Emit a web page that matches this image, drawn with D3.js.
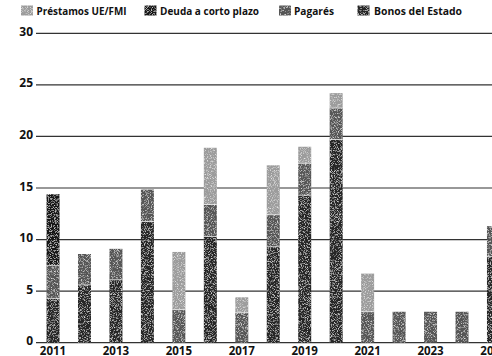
<!DOCTYPE html>
<html>
<head>
<meta charset="utf-8">
<script src="https://cdn.jsdelivr.net/npm/d3@7"></script>
<style>
  body { margin: 0; background: #fff; }
  svg { display: block; }
</style>
</head>
<body>
<svg width="492" height="356"></svg>
<script>
// datos (miles de millones de euros)
var years = ["2011","2012","2013","2014","2015","2016","2017","2018","2019","2020","2021","2022","2023","2024","2025"];
var bonos     = [4.3, 5.6, 6.1, 11.75, 0, 10.3, 0, 9.3, 14.3, 19.7, 0, 0, 0, 0, 8.35];
var pagares   = [3.2, 3.0, 3.0, 3.1, 3.2, 3.1, 2.9, 3.1, 3.1, 3.05, 3.0, 3.0, 3.0, 3.0, 2.95];
var corto     = [6.9, 0, 0, 0, 0, 0, 0, 0, 0, 0, 0, 0, 0, 0, 0];
var prestamos = [0, 0, 0, 0, 5.6, 5.5, 1.5, 4.8, 1.6, 1.45, 3.7, 0, 0, 0, 0];
var yTicks = [0, 5, 10, 15, 20, 25, 30];
var xLabels = ["2011","2013","2015","2017","2019","2021","2023","2025"];

var series = [
  { key: "bonos", name: "Bonos del Estado", values: bonos, color: "#282828" },
  { key: "pagares", name: "Pagarés", values: pagares, color: "#575757" },
  { key: "corto", name: "Deuda a corto plazo", values: corto, color: "#161616" },
  { key: "prestamos", name: "Préstamos UE/FMI", values: prestamos, color: "#9c9c9c" }
];
var legendOrder = ["prestamos", "corto", "pagares", "bonos"];

var svg = d3.select("svg");

// textura granulada (imitar la impresion)
var filter = svg.append("defs").append("filter")
  .attr("id", "grain")
  .attr("x", 0).attr("y", 0).attr("width", 1).attr("height", 1);
filter.append("feTurbulence")
  .attr("type", "fractalNoise")
  .attr("baseFrequency", 1.3)
  .attr("numOctaves", 1)
  .attr("seed", 7)
  .attr("result", "noise");
filter.append("feColorMatrix")
  .attr("in", "noise")
  .attr("type", "matrix")
  .attr("values", "0 0 0 0 1  0 0 0 0 1  0 0 0 0 1  2.4 0 0 0 -1.2")
  .attr("result", "speck");
filter.append("feComposite")
  .attr("in", "speck")
  .attr("in2", "SourceGraphic")
  .attr("operator", "in")
  .attr("result", "sp");
var merge = filter.append("feMerge");
merge.append("feMergeNode").attr("in", "SourceGraphic");
merge.append("feMergeNode").attr("in", "sp");

var x = d3.scaleBand().domain(years).range([37.3, 509.2])
  .paddingInner(0.587).paddingOuter(0.2935);
var y = d3.scaleLinear().domain([0, 30]).range([342.7, 33.3]);

// lineas de cuadricula
svg.append("g")
  .selectAll("line")
  .data(yTicks)
  .enter()
  .append("line")
  .attr("x1", 36)
  .attr("x2", 492)
  .attr("y1", function (d) { return y(d); })
  .attr("y2", function (d) { return y(d); })
  .attr("stroke", "#333")
  .attr("stroke-width", 1.2);

// etiquetas eje Y
svg.append("g")
  .selectAll("text")
  .data(yTicks)
  .enter()
  .append("text")
  .attr("x", 33)
  .attr("y", function (d) { return y(d) + 2.5; })
  .attr("text-anchor", "end")
  .attr("font-family", "Open Sans, sans-serif")
  .attr("font-weight", "bold")
  .attr("font-size", "12px")
  .attr("fill", "#111")
  .text(function (d) { return d; });

// pilas
var table = years.map(function (yr, i) {
  var row = { year: yr };
  series.forEach(function (s) { row[s.key] = s.values[i]; });
  return row;
});
var stack = d3.stack().keys(series.map(function (s) { return s.key; }));
var stacked = stack(table);

svg.append("g")
  .selectAll("g")
  .data(stacked)
  .enter()
  .append("g")
  .attr("fill", function (d, i) { return series[i].color; })
  .selectAll("rect")
  .data(function (d) { return d.filter(function (p) { return p[1] - p[0] > 0; }); })
  .enter()
  .append("rect")
  .attr("x", function (d) { return x(d.data.year); })
  .attr("width", x.bandwidth())
  .attr("y", function (d) { return y(d[1]); })
  .attr("height", function (d) { return y(d[0]) - y(d[1]); })
  .attr("filter", "url(#grain)");

// separaciones blancas entre segmentos
svg.append("g")
  .selectAll("g")
  .data(stacked.slice(0, 3))
  .enter()
  .append("g")
  .selectAll("line")
  .data(function (d) {
    return d.filter(function (p, i) {
      return p[1] - p[0] > 0 && p[1] < d3.max(stacked, function (s) { return s[i][1]; });
    });
  })
  .enter()
  .append("line")
  .attr("x1", function (d) { return x(d.data.year); })
  .attr("x2", function (d) { return x(d.data.year) + x.bandwidth(); })
  .attr("y1", function (d) { return y(d[1]); })
  .attr("y2", function (d) { return y(d[1]); })
  .attr("stroke", "#fff")
  .attr("stroke-opacity", 0.8)
  .attr("stroke-width", 0.8);

// etiquetas eje X
svg.append("g")
  .selectAll("text")
  .data(xLabels)
  .enter()
  .append("text")
  .attr("x", function (d) { return x(d) + x.bandwidth() / 2; })
  .attr("y", 354.5)
  .attr("text-anchor", "middle")
  .attr("font-family", "Open Sans, sans-serif")
  .attr("font-weight", "bold")
  .attr("font-size", "11.5px")
  .attr("fill", "#111")
  .text(function (d) { return d; });

// leyenda
var legendPos = [
  { sx: 21, tx: 36.5, w: 90 },
  { sx: 144.5, tx: 160, w: 99 },
  { sx: 279, tx: 294, w: 40 },
  { sx: 357.5, tx: 374, w: 88 }
];
var legend = svg.append("g")
  .selectAll("g")
  .data(legendOrder)
  .enter()
  .append("g");

legend.append("rect")
  .attr("x", function (d, i) { return legendPos[i].sx; })
  .attr("y", 5.5)
  .attr("width", 12)
  .attr("height", 10)
  .attr("filter", "url(#grain)")
  .attr("fill", function (d) {
    return series.find(function (s) { return s.key == d; }).color;
  });

legend.append("text")
  .attr("x", function (d, i) { return legendPos[i].tx; })
  .attr("y", 14.5)
  .attr("textLength", function (d, i) { return legendPos[i].w; })
  .attr("lengthAdjust", "spacingAndGlyphs")
  .attr("font-family", "Open Sans, sans-serif")
  .attr("font-weight", 700)
  .attr("font-size", "11px")
  .attr("fill", "#111")
  .text(function (d) {
    return series.find(function (s) { return s.key == d; }).name;
  });
</script>
</body>
</html>
